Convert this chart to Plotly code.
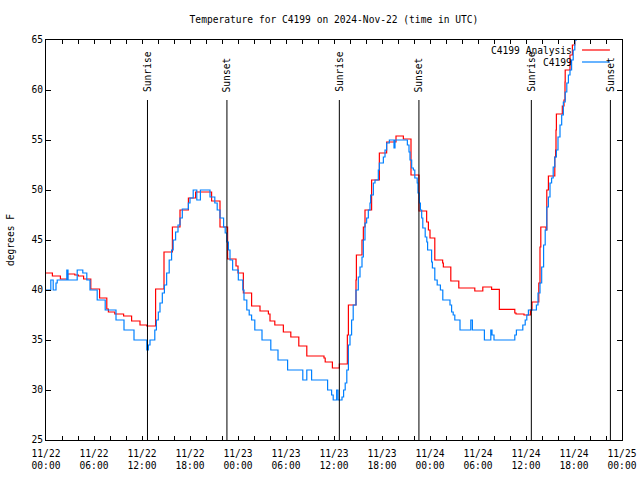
import pandas as pd
import plotly.graph_objects as go

START = "2024-11-22 00:00"

# Observed temperature (C4199), hours since START and degrees F
obs_hours = [0.0, 0.6, 0.9, 1.25, 1.4, 2.6, 2.75, 3.9, 4.6, 5.1, 5.5, 6.4, 7.4, 8.75, 9.75, 11.0,
             12.6, 12.8, 13.0, 13.6, 13.8, 14.04, 14.25, 14.54, 14.8, 15.08, 15.4, 15.7, 15.9,
             16.2, 16.5, 16.75, 17.04, 17.8, 18.0, 18.4, 18.85, 19.3, 20.5, 21.1, 21.4, 21.75,
             22.2, 22.4, 22.6, 22.8, 23.0, 23.33, 24.04, 24.6, 24.75, 25.1, 25.4, 25.7, 26.1,
             27.0, 28.1, 29.0, 30.2, 32.1, 32.6, 33.2, 35.2, 35.7, 35.9, 36.33, 36.5, 37.0,
             37.2, 37.4, 37.6, 37.8, 38.0, 38.2, 38.4, 38.75, 39.04, 39.25, 39.5, 39.67,
             39.875, 40.08, 40.29, 40.5, 40.58, 40.92, 41.125, 41.54, 41.67, 42.17, 42.375,
             42.58, 42.92, 43.5, 43.625, 45.17, 45.375, 45.5, 45.71, 45.92, 46.1, 46.4, 46.5,
             46.67, 46.8, 46.96, 47.1, 47.4, 47.6, 47.7, 48.2, 48.3, 48.6, 48.9, 49.3, 49.6,
             50.5, 50.7, 50.9, 51.1, 51.75, 53.1, 53.3, 54.8, 55.6, 55.75, 56.0, 58.6, 58.8,
             59.6, 59.9, 60.1, 60.3, 61.3, 61.5, 61.75, 61.96, 62.2, 62.4, 62.6, 62.8, 63.0,
             63.2, 63.4, 63.6, 63.8, 64.0, 64.25, 64.46, 64.67, 64.9, 65.1, 65.3, 65.5, 65.7,
             65.9, 66.1, 66.3, 66.6]
obs_temps = [40, 41, 40, 40.7, 41, 42, 41, 42, 41.7, 41, 40, 39, 38, 37, 36, 35,
             34, 34.5, 35, 36, 37, 37.8, 38.7, 39.7, 40.5, 41.7, 43, 44, 45,
             45.8, 46.5, 47.2, 48.1, 48.7, 49.2, 50, 49, 50, 49.3, 48.7, 48, 47.2,
             46.3, 45.7, 44.8, 44, 43, 42, 41, 40, 39, 38, 37.5, 37, 36,
             35, 34, 33, 32, 31, 32, 31, 30, 29.5, 29, 30, 29, 29.3,
             30, 30.7, 32, 34.5, 35.5, 37, 38.5, 40, 41.3, 42.3, 43.3, 45,
             46.7, 47.2, 48, 48.7, 49.5, 50.7, 51, 52, 52.7, 53.3, 54,
             54.7, 55, 54.2, 55, 54.5, 53.8, 53, 52.2, 52, 51.2, 50.7, 49.7,
             48.7, 48, 47.2, 46.2, 45.3, 44.8, 44, 42.8, 42.2, 41, 40.5, 40, 39,
             38.5, 37.8, 37.5, 37, 36, 37, 36, 35, 36, 35.5, 35, 35.5, 36,
             36.5, 37, 37.5, 38, 38.5, 39.7, 40.7, 42.3, 44.5, 46, 48.3, 49.3, 50.7,
             51.2, 52.3, 53.3, 54, 55.3, 56.5, 57.5, 58.8, 59.8, 60.7, 61.5, 62, 63,
             64, 65, 66, 67]

# Analysis temperature (C4199 Analysis)
ana_hours = [0.0, 0.8, 1.8, 2.7, 3.6, 4.05, 4.7, 5.6, 6.7, 7.6, 7.8, 8.6, 9.7, 10.7, 11.75,
             12.6, 13.7, 14.75, 15.8, 16.75, 17.8, 18.7, 20.7, 21.75, 22.7, 23.75, 24.0,
             24.67, 25.7, 26.75, 27.8, 28.0, 28.6, 29.67, 30.6, 31.6, 32.6, 34.75, 34.9,
             35.8, 36.67, 37.67, 37.8, 38.75, 38.8, 39.5, 39.67, 39.875, 40.7, 41.67, 42.58,
             43.75, 44.67, 45.625, 46.625, 47.58, 47.8, 48.0, 48.6, 49.58, 49.67, 50.6,
             51.6, 53.6, 54.6, 55.7, 56.67, 58.6, 58.75, 59.75, 60.55, 60.75, 61.6, 61.75,
             61.85, 62.5, 62.6, 62.8, 63.6, 63.7, 63.75, 63.8, 64.54, 64.75, 64.875, 64.9,
             65.5, 65.8, 66.1, 66.5]
ana_temps = [41.7, 41.4, 41.1, 41.6, 41.5, 41.4, 41.1, 40.1, 39.2, 38.1, 37.8, 37.6, 37.4, 36.9, 36.5,
             36.4, 40.1, 43.8, 46.3, 48.0, 49.2, 49.8, 48.9, 46.3, 43.1, 42.4, 41.7,
             39.7, 38.4, 37.9, 37.6, 36.9, 36.5, 35.8, 35.3, 34.4, 33.4, 33.2, 32.8,
             32.2, 32.6, 35.5, 38.5, 41.0, 43.5, 45.0, 46.3, 48.0, 51.0, 53.7, 54.8,
             55.4, 55.1, 51.5, 47.9, 46.8, 46.0, 45.2, 43.0, 42.7, 42.3, 40.9,
             40.2, 39.9, 40.3, 40.07, 38.07, 37.7, 37.6, 37.5, 38.0, 38.8, 40.7, 44.3,
             46.3, 46.0, 50.0, 51.4, 53.3, 54.0, 56.0, 57.6, 58.4, 59.0, 60.8, 62.0,
             63.5, 64.5, 66.0, 67.0]

sun_times = ["2024-11-22 12:41", "2024-11-22 22:37", "2024-11-23 12:40",
             "2024-11-23 22:37", "2024-11-24 12:40", "2024-11-24 22:33"]
sun_labels = ["Sunrise", "Sunset", "Sunrise", "Sunset", "Sunrise", "Sunset"]

x_tick_labels = ["11/22<br>00:00", "11/22<br>06:00", "11/22<br>12:00", "11/22<br>18:00",
                 "11/23<br>00:00", "11/23<br>06:00", "11/23<br>12:00", "11/23<br>18:00",
                 "11/24<br>00:00", "11/24<br>06:00", "11/24<br>12:00", "11/24<br>18:00",
                 "11/25<br>00:00"]
y_ticks = [25, 30, 35, 40, 45, 50, 55, 60, 65]

series_names = ["C4199 Analysis", "C4199"]
series_colors = ["#ff0000", "#0080ff"]

FONT = "DejaVu Sans Mono"
FS = 9.6

start = pd.Timestamp(START)
obs_x = start + pd.to_timedelta(obs_hours, unit="h")
ana_x = start + pd.to_timedelta(ana_hours, unit="h")

fig = go.Figure()
fig.add_trace(go.Scatter(x=ana_x, y=ana_temps, mode="lines", line_shape="hv",
                         line=dict(color=series_colors[0], width=1.2), name=series_names[0]))
fig.add_trace(go.Scatter(x=obs_x, y=obs_temps, mode="lines", line_shape="hv",
                         line=dict(color=series_colors[1], width=1.2), name=series_names[1]))

# Sunrise / sunset markers
for t, lab in zip(sun_times, sun_labels):
    fig.add_shape(type="line", xref="x", yref="y", x0=t, x1=t, y0=25, y1=59,
                  line=dict(color="black", width=1))
    fig.add_annotation(x=t, y=59.6, xref="x", yref="y", text=lab, textangle=-90,
                       showarrow=False, xanchor="center", yanchor="bottom",
                       font=dict(family=FONT, size=FS, color="black"))

# Gnuplot-style legend: text on the left, sample line on the right
legend_rows = [0.975, 0.945]
for name, col, yy in zip(series_names, series_colors, legend_rows):
    fig.add_annotation(x=0.9167, y=yy, xref="paper", yref="paper", text=name,
                       showarrow=False, xanchor="right", yanchor="middle",
                       font=dict(family=FONT, size=FS, color="black"))
    fig.add_shape(type="line", xref="paper", yref="paper", x0=0.9306, x1=0.979,
                  y0=yy, y1=yy, line=dict(color=col, width=1.2))

# y axis title
fig.add_annotation(x=-0.0625, y=0.5, xref="paper", yref="paper", text="degrees F",
                   textangle=-90, showarrow=False, xanchor="center", yanchor="middle",
                   font=dict(family=FONT, size=FS, color="black"))

tickvals = pd.date_range(start, periods=37, freq="2h")
ticktext = []
for i in range(len(tickvals)):
    ticktext.append(x_tick_labels[i // 3] if i % 3 == 0 else "")

W, H = 640, 480
fig.update_layout(
    width=W, height=H, autosize=False,
    margin=dict(l=46, r=18, t=40, b=40),
    paper_bgcolor="white", plot_bgcolor="white",
    showlegend=False, hovermode=False,
    font=dict(family=FONT, size=FS, color="black"),
    title=dict(text="Temperature for C4199 on 2024-Nov-22 (time in UTC)", x=0.5, xref="paper",
               xanchor="center", y=1 - 20 / H, yref="container", yanchor="middle",
               font=dict(family=FONT, size=FS, color="black")),
    xaxis=dict(range=[start, start + pd.Timedelta(hours=72)], tickmode="array",
               tickvals=tickvals, ticktext=ticktext, ticks="inside", ticklen=4,
               tickcolor="black", showline=True, linecolor="black", linewidth=1,
               mirror="ticks", showgrid=False, zeroline=False, tickangle=0,
               ticklabelstandoff=4, automargin=False,
               tickfont=dict(family=FONT, size=FS, color="black")),
    yaxis=dict(range=[25, 65], tickmode="array", tickvals=y_ticks,
               ticktext=[str(v) for v in y_ticks], ticks="inside", ticklen=5,
               tickcolor="black", showline=True, linecolor="black", linewidth=1,
               mirror="ticks", showgrid=False, zeroline=False, automargin=False,
               tickfont=dict(family=FONT, size=FS, color="black")),
)

# remove the page's default body margin so the 640x480 figure fills the window exactly
fig.write_html("out.html", config={"displayModeBar": False, "staticPlot": True},
               post_script="document.body.style.margin='0';document.body.style.overflow='hidden';")
